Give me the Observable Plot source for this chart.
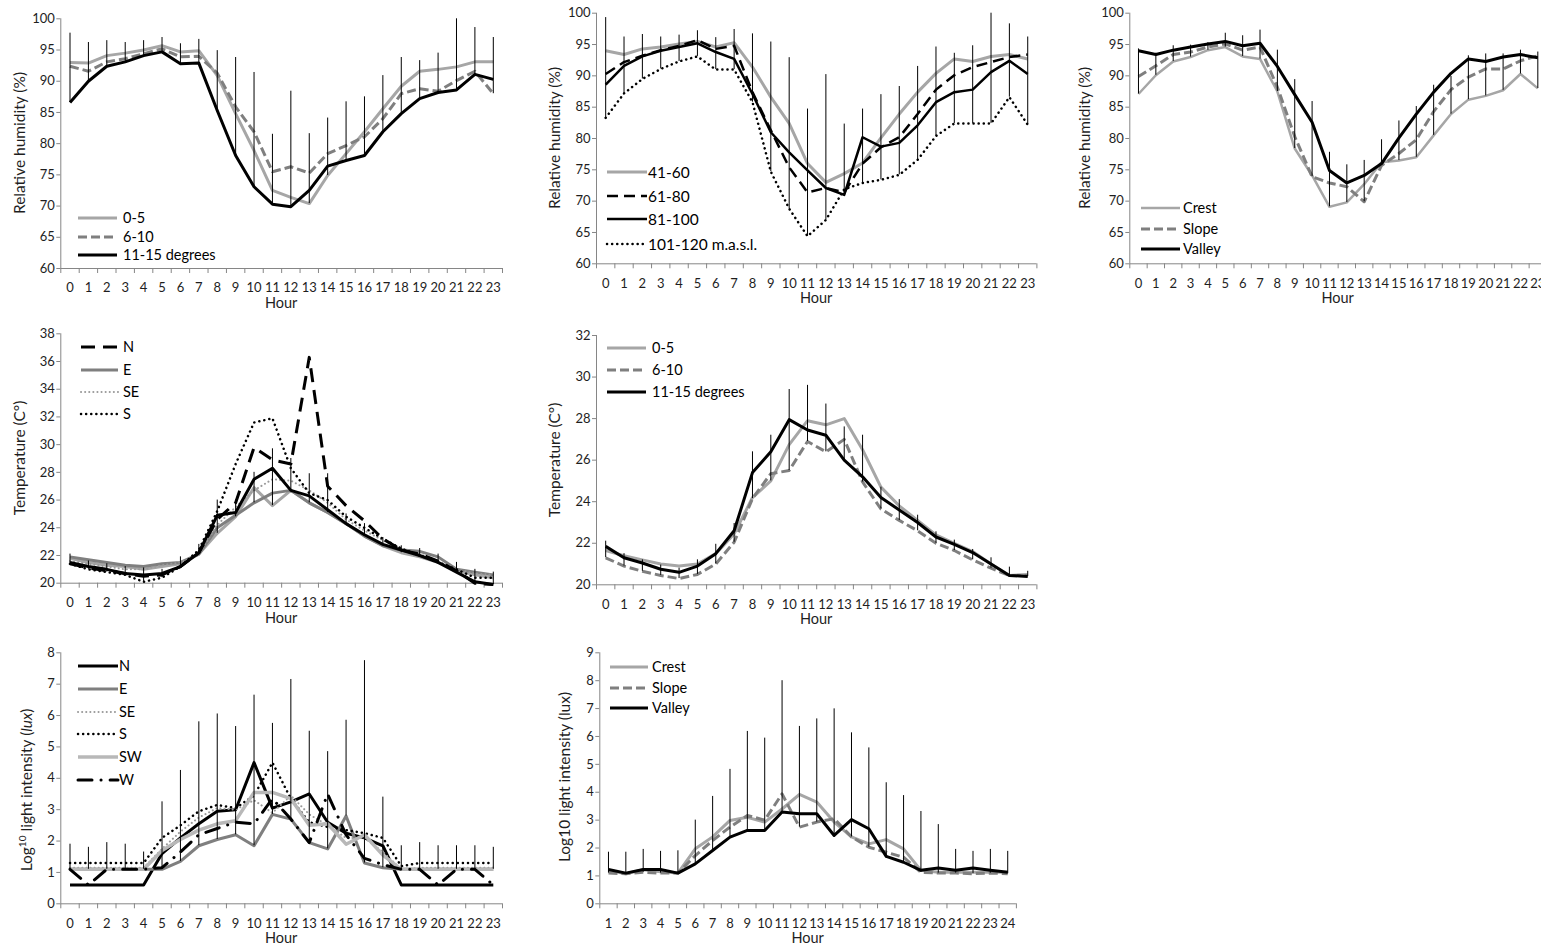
<!DOCTYPE html>
<html><head><meta charset="utf-8">
<script src="https://cdn.jsdelivr.net/npm/d3@7"></script>
<script src="https://cdn.jsdelivr.net/npm/@observablehq/plot@0.6"></script>
<style>
body{margin:0;background:#fff;overflow:hidden}
#wrap{position:relative;width:1541px;height:948px;overflow:hidden;background:#fff}
</style>
</head><body><div id="wrap"></div>
<script>
// ---------- categories & ticks ----------
const hours = [0,1,2,3,4,5,6,7,8,9,10,11,12,13,14,15,16,17,18,19,20,21,22,23];
const hours1to24 = [1,2,3,4,5,6,7,8,9,10,11,12,13,14,15,16,17,18,19,20,21,22,23,24];
const rhTicks = [60,65,70,75,80,85,90,95,100];
const tAspTicks = [20,22,24,26,28,30,32,34,36,38];
const tSlopeTicks = [20,22,24,26,28,30,32];
const luxAspTicks = [0,1,2,3,4,5,6,7,8];
const luxTopoTicks = [0,1,2,3,4,5,6,7,8,9];

// ---------- Panel 1: RH by slope ----------
const rh_slope_0_5   = [93.0,92.9,94.1,94.5,95.0,95.7,94.7,94.9,90.9,84.8,78.9,72.5,71.4,70.4,74.9,78.4,81.9,85.6,89.2,91.6,91.9,92.3,93.1,93.1];
const rh_slope_6_10  = [92.4,91.6,93.1,93.6,94.4,95.2,93.9,94.0,91.3,85.9,81.9,75.5,76.3,75.3,78.4,79.7,81.1,84.0,88.0,88.8,88.4,90.1,91.6,88.0];
const rh_slope_11_15 = [86.6,90.0,92.4,93.1,94.1,94.7,92.8,92.9,85.3,78.1,73.1,70.3,69.9,72.5,76.4,77.3,78.1,81.9,84.8,87.2,88.2,88.6,91.1,90.3];
const rh_slope_err   = [97.7,96.2,96.5,96.2,96.5,97.0,96.0,96.7,94.9,93.8,91.4,81.5,88.4,81.6,84.1,86.7,87.5,90.9,93.8,93.3,94.5,100.0,98.6,97.0];

// ---------- Panel 2: RH by altitude ----------
const rh_alt_41_60   = [94.0,93.4,94.3,94.6,95.1,95.5,94.6,95.3,91.4,86.6,82.4,76.0,73.0,74.4,76.1,80.1,83.9,87.4,90.4,92.7,92.3,93.1,93.4,92.7];
const rh_alt_61_80   = [90.3,92.2,93.2,94.1,94.8,95.7,94.3,94.8,87.4,81.3,75.4,71.4,72.1,71.4,76.0,78.6,80.2,83.9,87.8,90.1,91.4,92.2,93.0,93.4];
const rh_alt_81_100  = [88.6,91.6,93.1,94.0,94.6,95.2,93.8,92.7,87.1,81.0,77.8,74.9,72.1,71.0,80.2,78.7,79.3,82.1,85.8,87.4,87.8,90.6,92.4,90.3];
const rh_alt_101_120 = [83.3,87.2,89.5,91.1,92.3,93.1,91.0,91.0,85.8,74.7,68.8,64.4,67.0,71.9,72.9,73.4,74.2,76.6,80.4,82.4,82.4,82.4,86.6,82.2];
const rh_alt_err     = [99.3,96.2,96.6,96.2,96.5,97.2,96.1,97.4,96.7,95.4,92.9,84.7,90.2,82.3,84.7,87.0,88.3,91.5,94.6,93.6,94.8,100.0,98.3,96.2];

// ---------- Panel 3: RH by topography ----------
const rh_topo_crest  = [87.1,90.1,92.3,93.0,94.1,94.6,93.1,92.7,87.5,78.4,74.1,69.1,69.8,72.7,76.2,76.5,77.0,80.5,83.9,86.2,86.8,87.7,90.3,88.0];
const rh_topo_slope  = [89.9,91.6,93.4,93.8,94.6,95.1,94.1,94.6,88.2,80.3,73.9,72.9,72.3,69.9,75.7,77.6,79.8,84.3,87.8,89.8,91.1,91.1,92.4,93.2];
const rh_topo_valley = [94.0,93.4,94.1,94.6,95.1,95.5,94.8,95.2,91.5,87.0,82.6,74.9,72.9,74.1,76.0,80.1,83.9,87.4,90.4,92.7,92.3,93.0,93.4,92.9];
const rh_topo_err    = [94.3,93.6,94.8,94.9,95.3,96.8,96.4,97.3,94.1,89.4,85.9,77.8,75.8,76.5,79.8,82.8,85.1,88.5,89.9,93.2,93.5,93.5,94.1,93.8];

// ---------- Panel 4: temperature by aspect ----------
const t_asp_N  = [21.4,21.1,20.9,20.7,20.5,20.6,21.2,22.2,24.6,25.8,29.8,28.9,28.6,36.3,27.0,25.6,24.5,23.2,22.4,22.1,21.6,20.9,20.0,19.9];
const t_asp_E  = [21.9,21.7,21.5,21.3,21.2,21.4,21.5,22.1,24.0,24.9,25.8,26.5,26.7,25.8,25.1,24.3,23.4,22.7,22.4,22.3,21.9,21.0,20.8,20.6];
const t_asp_SE = [21.6,21.4,21.2,21.0,21.0,21.3,21.5,22.1,24.2,25.5,26.7,27.5,27.4,26.7,25.8,24.6,23.8,23.1,22.5,22.1,21.6,21.0,20.7,20.6];
const t_asp_S  = [21.4,21.0,20.8,20.6,20.1,20.4,21.2,22.4,25.2,28.6,31.6,31.9,28.3,26.5,26.0,24.8,24.0,23.2,22.5,22.0,21.5,21.0,20.4,20.4];
const t_asp_SW = [21.8,21.5,21.3,21.2,21.0,21.2,21.4,22.1,23.6,24.8,26.9,25.6,26.7,25.8,25.1,24.3,23.4,22.7,22.2,21.9,21.5,20.9,20.6,20.4];
const t_asp_W  = [21.5,21.2,21.0,20.7,20.6,20.7,21.2,22.2,24.9,25.1,27.5,28.3,26.7,26.3,25.3,24.3,23.5,22.8,22.4,22.0,21.5,20.8,20.1,19.9];
const t_asp_err= [22.1,21.6,21.4,21.2,21.1,21.0,21.9,22.8,26.0,26.0,28.0,29.7,29.0,27.9,27.9,25.0,24.3,23.3,22.7,22.5,22.1,21.5,21.0,20.8];

// ---------- Panel 5: temperature by slope ----------
const t_slope_0_5   = [21.65,21.4,21.2,21.0,20.9,21.0,21.5,22.45,24.2,25.0,26.75,27.9,27.7,28.0,26.5,24.7,23.8,23.1,22.4,22.0,21.6,21.0,20.45,20.5];
const t_slope_6_10  = [21.3,20.9,20.65,20.45,20.3,20.5,21.0,22.05,24.15,25.35,25.5,26.9,26.4,27.0,24.95,23.65,23.1,22.6,22.0,21.65,21.2,20.8,20.45,20.45];
const t_slope_11_15 = [21.85,21.3,21.05,20.75,20.6,20.9,21.5,22.6,25.4,26.4,27.95,27.45,27.2,26.0,25.2,24.2,23.6,23.0,22.3,21.95,21.55,21.0,20.45,20.4];
const t_slope_err   = [22.1,21.5,21.2,20.95,20.8,21.2,21.95,22.95,26.4,27.2,29.4,29.6,28.7,27.6,27.2,24.7,24.1,23.35,22.55,22.15,21.7,21.3,20.85,20.65];

// ---------- Panel 6: light by aspect ----------
const lux_N  = [0.6,0.6,0.6,0.6,0.6,1.6,2.1,2.55,2.95,3.0,4.5,3.05,3.25,3.5,2.6,2.25,2.1,1.85,0.6,0.6,0.6,0.6,0.6,0.6];
const lux_E  = [1.1,1.1,1.1,1.1,1.1,1.1,1.35,1.85,2.05,2.2,1.85,2.85,2.7,1.95,1.75,2.8,1.3,1.15,1.1,1.1,1.1,1.1,1.1,1.1];
const lux_SE = [1.15,1.15,1.15,1.15,1.15,1.75,2.3,2.75,3.05,3.0,3.3,2.9,3.45,2.85,2.5,2.1,2.1,1.65,1.1,1.15,1.15,1.15,1.15,1.15];
const lux_S  = [1.3,1.3,1.3,1.3,1.3,2.1,2.5,2.95,3.15,3.05,3.45,4.5,3.35,2.6,2.45,2.35,2.25,2.1,1.2,1.3,1.3,1.3,1.3,1.3];
const lux_SW = [1.1,1.1,1.1,1.1,1.1,1.7,2.05,2.35,2.55,2.65,3.55,3.55,3.35,2.5,2.55,1.9,2.2,1.55,1.1,1.1,1.1,1.1,1.1,1.1];
const lux_W  = [1.1,0.6,1.1,1.1,1.1,1.15,1.65,2.2,2.4,2.6,2.55,3.35,2.7,1.95,3.5,2.2,1.45,1.25,1.1,1.1,0.6,1.1,1.1,0.6];
const lux_asp_err = [1.9,1.8,1.95,1.9,1.65,3.25,4.25,5.8,6.05,5.65,6.65,5.75,7.15,5.5,4.85,5.85,7.75,3.4,1.85,1.95,1.85,1.85,1.85,1.8];

// ---------- Panel 7: light by topography ----------
const lux_crest  = [1.2,1.08,1.22,1.15,1.1,1.97,2.4,2.99,3.1,2.93,3.4,3.92,3.65,2.93,2.4,2.15,2.3,1.97,1.2,1.13,1.13,1.13,1.13,1.13];
const lux_slope  = [1.1,1.08,1.13,1.1,1.1,1.73,2.27,2.75,3.17,3.0,3.94,2.75,2.93,3.05,2.4,2.03,1.85,1.67,1.13,1.1,1.1,1.08,1.1,1.08];
const lux_valley = [1.23,1.1,1.23,1.23,1.1,1.43,1.91,2.39,2.63,2.63,3.29,3.23,3.23,2.45,3.02,2.69,1.7,1.49,1.2,1.28,1.2,1.28,1.2,1.13];
const lux_topo_err = [1.85,1.85,1.95,1.88,1.9,3.0,3.85,4.82,6.18,5.94,8.0,6.36,6.63,6.99,6.13,5.59,4.34,3.88,3.31,2.84,1.95,1.88,1.95,1.88];

// ---------- styles ----------
const AX = "#868686", TXT = "#1e1e1e", LG = "#a6a6a6", MG = "#7f7f7f", BK = "#000000";
const FONT = "Lato, 'Open Sans', sans-serif";
const TICK = 13;
const sty = {
  light:   {stroke: LG, w: 3},
  grayDash:{stroke: MG, w: 3, dash: "9,4"},
  black:   {stroke: BK, w: 3},
  blackThin:{stroke: BK, w: 2.5},
  longDash:{stroke: BK, w: 2.5, dash: "11,6"},
  longDashN:{stroke: BK, w: 3, dash: "14,8"},
  dotBlack:{stroke: BK, w: 2.5, dash: "0.1,5", cap: "round"},
  dotLight:{stroke: "#9a9a9a", w: 2, dash: "0.1,4", cap: "round"},
  gray:    {stroke: MG, w: 3},
  lightW:  {stroke: "#b8b8b8", w: 3.5},
  dashDot: {stroke: BK, w: 3, dash: "14,9,0.1,9", cap: "round"}
};

const wrap = document.getElementById("wrap");

function panel(cfg) {
  const xc = cfg.xCats;
  const xDom = [xc[0] - 0.5, xc[xc.length - 1] + 0.5];
  const bounds = xc.map(h => h - 0.5).concat([xc[xc.length - 1] + 0.5]);
  const base = cfg.errBase || xc.map((h, i) => Math.min(...cfg.series.map(s => s.values[i])));
  const marks = [
    Plot.ruleY([cfg.yDom[0]], {stroke: AX, strokeWidth: 1}),
    Plot.ruleX([xDom[0]], {stroke: AX, strokeWidth: 1}),
    Plot.axisY(cfg.yTicks, {tickSize: 4, tickPadding: 2, stroke: AX, fill: TXT, label: null, fontSize: TICK}),
    Plot.axisX(xc, {tickSize: 0, tickPadding: 14.5, fill: TXT, label: null, fontSize: TICK}),
    Plot.axisX(bounds, {tickSize: 5, stroke: AX, fill: "none", label: null})
  ];
  for (const s of cfg.series) {
    marks.push(Plot.line(xc, {
      x: d => d, y: (d, i) => s.values[i],
      stroke: s.st.stroke, strokeWidth: s.st.w,
      strokeDasharray: s.st.dash, strokeLinecap: s.st.cap || "butt", strokeLinejoin: "round"
    }));
  }
  marks.push(Plot.ruleX(xc, {x: d => d, y1: (d, i) => base[i], y2: (d, i) => cfg.errTop[i], stroke: BK, strokeWidth: 1}));

  const svg = Plot.plot({
    width: cfg.width, height: cfg.height,
    marginLeft: cfg.mL, marginRight: cfg.mR, marginTop: cfg.mT, marginBottom: cfg.mB,
    x: {type: "linear", domain: xDom, label: null},
    y: {domain: cfg.yDom, label: null},
    style: {position: "absolute", left: cfg.left + "px", top: cfg.top + "px", fontFamily: FONT, background: "transparent", overflow: "visible", maxWidth: "none"},
    marks
  });
  wrap.appendChild(svg);

  const g = d3.select(svg).append("g").attr("font-family", FONT).attr("fill", TXT);
  // y title
  const yt = g.append("text")
    .attr("transform", `translate(${cfg.yTitleX},${cfg.yTitleY}) rotate(-90)`)
    .attr("text-anchor", "middle").attr("font-size", cfg.yTitleSize || 15.5);
  for (const part of cfg.yTitle) {
    const t = yt.append("tspan").text(part.t);
    if (part.sup) t.attr("baseline-shift", "super").attr("font-size", "0.65em");
    if (part.it) t.attr("font-style", "italic");
  }
  // x title
  g.append("text")
    .attr("x", (cfg.mL + cfg.width - cfg.mR) / 2)
    .attr("y", cfg.height - cfg.mB + 40)
    .attr("text-anchor", "middle").attr("font-size", 14.5).text("Hour");
  // legend
  const L = cfg.legend;
  L.entries.forEach((e, i) => {
    const y = L.ys[i];
    g.append("line").attr("x1", L.x1).attr("x2", L.x2).attr("y1", y).attr("y2", y)
      .attr("stroke", e.st.stroke).attr("stroke-width", e.st.w)
      .attr("stroke-dasharray", e.st.dash || null)
      .attr("stroke-linecap", e.st.cap || "butt");
    g.append("text").attr("x", L.tx).attr("y", y).attr("dy", "0.36em")
      .attr("text-anchor", "start")
      .attr("font-size", L.size || 14.5).attr("fill", "#000").text(e.name);
  });
}

const rhTitle = [{t: "Relative humidity (%)"}];
const tTitle = [{t: "Temperature (C°)"}];

// Panel 1
const p1Series = [
  {name: "0-5", values: rh_slope_0_5, st: sty.light},
  {name: "6-10", values: rh_slope_6_10, st: sty.grayDash},
  {name: "11-15 degrees", values: rh_slope_11_15, st: sty.black}
];
panel({left: 0, top: 0, width: 510, height: 315, mL: 60.3, mR: 8, mT: 18.3, mB: 47,
  xCats: hours, yDom: [60, 100], yTicks: rhTicks, series: p1Series, errTop: rh_slope_err,
  yTitle: rhTitle, yTitleX: 25, yTitleY: 143,
  legend: {x1: 78, x2: 117, tx: 123, ys: [218, 237, 255], entries: p1Series}});

// Panel 2
const p2Series = [
  {name: "41-60", values: rh_alt_41_60, st: sty.light},
  {name: "61-80", values: rh_alt_61_80, st: sty.longDash},
  {name: "81-100", values: rh_alt_81_100, st: sty.blackThin},
  {name: "101-120 m.a.s.l.", values: rh_alt_101_120, st: sty.dotBlack}
];
panel({left: 540, top: 0, width: 500, height: 315, mL: 56, mR: 3.6, mT: 12.7, mB: 51.7,
  xCats: hours, yDom: [60, 100], yTicks: rhTicks, series: p2Series, errTop: rh_alt_err,
  yTitle: rhTitle, yTitleX: 20, yTitleY: 138,
  legend: {x1: 67, x2: 107, tx: 108, ys: [172, 196, 219, 244], entries: p2Series, size: 15.5}});

// Panel 3
const p3Series = [
  {name: "Crest", values: rh_topo_crest, st: {stroke: LG, w: 2.5}},
  {name: "Slope", values: rh_topo_slope, st: sty.grayDash},
  {name: "Valley", values: rh_topo_valley, st: sty.black}
];
panel({left: 1070, top: 0, width: 476, height: 315, mL: 59.3, mR: 0, mT: 12.7, mB: 51.7,
  xCats: hours, yDom: [60, 100], yTicks: rhTicks, series: p3Series, errTop: rh_topo_err,
  yTitle: rhTitle, yTitleX: 20, yTitleY: 138,
  legend: {x1: 71, x2: 110, tx: 113, ys: [208, 229, 249], entries: p3Series}});

// Panel 4
const p4Series = [
  {name: "SW", values: t_asp_SW, st: sty.light},
  {name: "E", values: t_asp_E, st: sty.gray},
  {name: "SE", values: t_asp_SE, st: sty.dotLight},
  {name: "W", values: t_asp_W, st: sty.black},
  {name: "S", values: t_asp_S, st: sty.dotBlack},
  {name: "N", values: t_asp_N, st: sty.longDashN}
];
const p4Legend = ["N", "E", "SE", "S"].map(n => p4Series.find(s => s.name === n));
panel({left: 0, top: 320, width: 510, height: 315, mL: 60.3, mR: 8, mT: 13.3, mB: 52.3,
  xCats: hours, yDom: [20, 38], yTicks: tAspTicks, series: p4Series, errTop: t_asp_err,
  yTitle: tTitle, yTitleX: 25, yTitleY: 138,
  legend: {x1: 81, x2: 118, tx: 123, ys: [27, 50, 72, 94], entries: p4Legend}});

// Panel 5
const p5Series = [
  {name: "0-5", values: t_slope_0_5, st: sty.light},
  {name: "6-10", values: t_slope_6_10, st: sty.grayDash},
  {name: "11-15 degrees", values: t_slope_11_15, st: sty.black}
];
panel({left: 540, top: 320, width: 500, height: 315, mL: 56, mR: 3.6, mT: 15, mB: 50.7,
  xCats: hours, yDom: [20, 32], yTicks: tSlopeTicks, series: p5Series, errTop: t_slope_err,
  yTitle: tTitle, yTitleX: 20, yTitleY: 140,
  legend: {x1: 67, x2: 106, tx: 112, ys: [28, 50, 72], entries: p5Series}});

// Panel 6
const p6Series = [
  {name: "N", values: lux_N, st: sty.black},
  {name: "E", values: lux_E, st: sty.gray},
  {name: "SE", values: lux_SE, st: sty.dotLight},
  {name: "S", values: lux_S, st: sty.dotBlack},
  {name: "SW", values: lux_SW, st: sty.lightW},
  {name: "W", values: lux_W, st: sty.dashDot}
];
panel({left: 0, top: 640, width: 510, height: 308, mL: 60.3, mR: 8, mT: 12.3, mB: 44.7,
  xCats: hours, yDom: [0, 8], yTicks: luxAspTicks, series: p6Series, errTop: lux_asp_err, errBase: lux_E,
  yTitle: [{t: "Log"}, {t: "10", sup: true}, {t: " light intensity ("}, {t: "lux", it: true}, {t: ")"}],
  yTitleX: 32, yTitleY: 150,
  legend: {x1: 78, x2: 118, tx: 119, ys: [26, 49, 72, 94, 117, 140], entries: p6Series}});

// Panel 7
const p7Series = [
  {name: "Crest", values: lux_crest, st: sty.light},
  {name: "Slope", values: lux_slope, st: sty.grayDash},
  {name: "Valley", values: lux_valley, st: sty.black}
];
panel({left: 540, top: 640, width: 500, height: 308, mL: 59.3, mR: 24.1, mT: 12.3, mB: 44.7,
  xCats: hours1to24, yDom: [0, 9], yTicks: luxTopoTicks, series: p7Series, errTop: lux_topo_err,
  yTitle: [{t: "Log10 light intensity (lux)"}], yTitleX: 30, yTitleY: 137,
  legend: {x1: 70, x2: 108, tx: 112, ys: [27, 48, 68], entries: p7Series}});
</script>
</body></html>
